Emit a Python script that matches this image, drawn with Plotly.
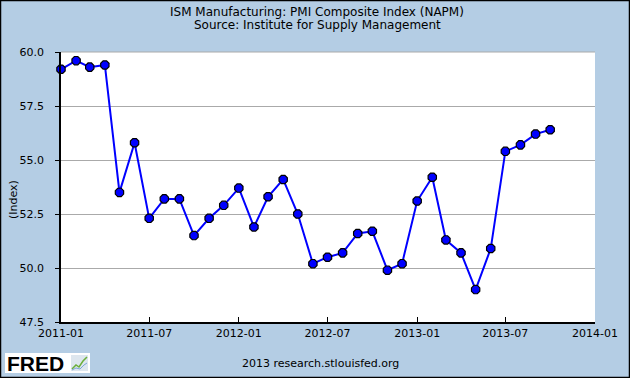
import plotly.graph_objects as go

dates = ["2011-01-01","2011-02-01","2011-03-01","2011-04-01","2011-05-01","2011-06-01",
         "2011-07-01","2011-08-01","2011-09-01","2011-10-01","2011-11-01","2011-12-01",
         "2012-01-01","2012-02-01","2012-03-01","2012-04-01","2012-05-01","2012-06-01",
         "2012-07-01","2012-08-01","2012-09-01","2012-10-01","2012-11-01","2012-12-01",
         "2013-01-01","2013-02-01","2013-03-01","2013-04-01","2013-05-01","2013-06-01",
         "2013-07-01","2013-08-01","2013-09-01","2013-10-01"]
values = [59.2, 59.6, 59.3, 59.4, 53.5, 55.8, 52.3, 53.2, 53.2, 51.5, 52.3, 52.9,
          53.7, 51.9, 53.3, 54.1, 52.5, 50.2, 50.5, 50.7, 51.6, 51.7, 49.9, 50.2,
          53.1, 54.2, 51.3, 50.7, 49.0, 50.9, 55.4, 55.7, 56.2, 56.4]
y_ticks = [47.5, 50.0, 52.5, 55.0, 57.5, 60.0]

BG = "#B4CDE4"
FONT = "DejaVu Sans"
W, H = 630, 378
L, R, T, B = 61, 35, 52, 56
PW, PH = W - L - R, H - T - B

def px(x):
    return (x - L) / PW

def py(y):
    return (H - B - y) / PH

fig = go.Figure()
fig.add_trace(go.Scatter(
    x=dates, y=values, mode="lines+markers",
    line=dict(color="#0000FF", width=2),
    marker=dict(symbol="octagon", size=9, color="#0000FF",
                line=dict(color="#000000", width=1.2)),
    showlegend=False, cliponaxis=False,
))

shapes = [
    dict(type="line", xref="paper", yref="paper", x0=0, x1=1, y0=1, y1=1,
         line=dict(color="#AAAAAA", width=1)),
    dict(type="rect", xref="paper", yref="paper", x0=px(0.5), x1=px(W - 0.5),
         y0=py(H - 0.5), y1=py(0.5), line=dict(color="black", width=1.5),
         layer="above"),
    # FRED logo box
    dict(type="rect", xref="paper", yref="paper", x0=px(5), x1=px(90),
         y0=py(373), y1=py(353), fillcolor="white", line=dict(width=0),
         layer="above"),
    # small chart icon
    dict(type="rect", xref="paper", yref="paper", x0=px(71), x1=px(88),
         y0=py(371), y1=py(355), fillcolor="#DDE6EE", line=dict(width=0),
         layer="above"),
    dict(type="path", xref="paper", yref="paper",
         path=f"M {px(72)},{py(369)} L {px(76)},{py(365)} L {px(79)},{py(367)} L {px(83)},{py(361)} L {px(87)},{py(357)}",
         line=dict(color="#6BAF3A", width=1.5), layer="above"),
    dict(type="path", xref="paper", yref="paper",
         path=f"M {px(72)},{py(370)} L {px(76)},{py(368)} L {px(80)},{py(369)} L {px(84)},{py(365)} L {px(87)},{py(363)}",
         line=dict(color="#7EA6D6", width=1), layer="above"),
]

annotations = [
    dict(text="ISM Manufacturing: PMI Composite Index (NAPM)",
         xref="paper", yref="paper", x=px(317), y=py(12),
         xanchor="center", yanchor="middle", showarrow=False,
         font=dict(size=12, family=FONT)),
    dict(text="Source: Institute for Supply Management",
         xref="paper", yref="paper", x=px(317), y=py(25),
         xanchor="center", yanchor="middle", showarrow=False,
         font=dict(size=12, family=FONT)),
    dict(text="(Index)", textangle=-90,
         xref="paper", yref="paper", x=px(13), y=py(200),
         xanchor="center", yanchor="middle", showarrow=False,
         font=dict(size=11, family=FONT)),
    dict(text="2013 research.stlouisfed.org",
         xref="paper", yref="paper", x=px(320), y=py(363),
         xanchor="center", yanchor="middle", showarrow=False,
         font=dict(size=11, family=FONT)),
    dict(text="<b>FRED</b>",
         xref="paper", yref="paper", x=px(5), y=py(363.5),
         xanchor="left", yanchor="middle", showarrow=False,
         font=dict(size=21, family="Liberation Sans", color="black")),
]

fig.update_layout(
    width=W, height=H,
    paper_bgcolor=BG, plot_bgcolor="white",
    margin=dict(l=L, r=R, t=T, b=B),
    font=dict(family=FONT, size=11, color="black"),
    hovermode=False,
    xaxis=dict(
        type="date", range=["2011-01-01", "2014-01-01"],
        tickformat="%Y-%m", dtick="M6", tick0="2011-01-01",
        ticks="inside", ticklen=5, tickcolor="black",
        showline=True, linecolor="black", linewidth=1.5,
        showgrid=False, zeroline=False, mirror=False,
        tickfont=dict(size=11), ticklabelstandoff=0,
    ),
    yaxis=dict(
        range=[47.5, 60.0], tickvals=y_ticks,
        ticktext=[f"{v:.1f}" for v in y_ticks],
        ticks="outside", ticklen=4, tickcolor="black",
        showline=True, linecolor="black", linewidth=1.5,
        showgrid=True, gridcolor="#AAAAAA", gridwidth=1,
        zeroline=False, ticklabelstandoff=9,
        tickfont=dict(size=11),
    ),
    shapes=shapes,
    annotations=annotations,
)

fig.write_html("out.html", config={"displayModeBar": False},
               post_script="document.body.style.margin='0';document.body.style.overflow='hidden';")
